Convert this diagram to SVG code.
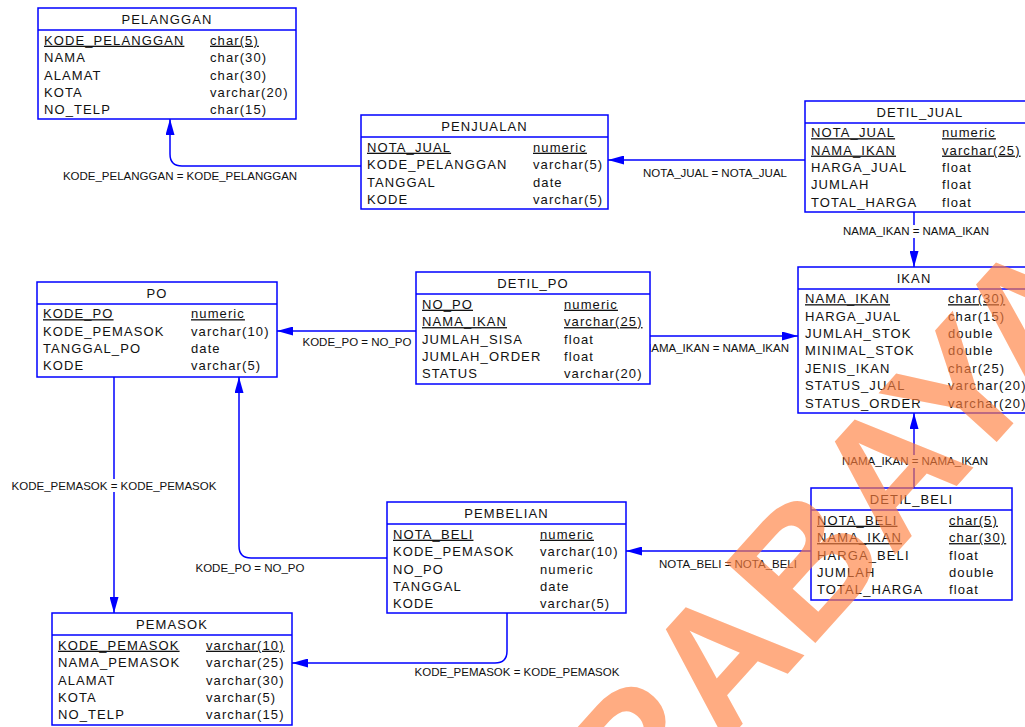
<svg xmlns="http://www.w3.org/2000/svg" width="1025" height="727" viewBox="0 0 1025 727">
  <defs>
    <style>
      .box { fill: #ffffff; stroke: #0000ff; stroke-width: 1.5; }
      .sep { stroke: #0000ff; stroke-width: 1.5; }
      .t { font-family: "Liberation Sans", Arial, sans-serif; font-size: 13px; letter-spacing: 1.1px; fill: #111111; }
      .title { text-anchor: middle; }
      .pk { text-decoration: underline; }
      .conn { fill: none; stroke: #0000ff; stroke-width: 1.5; }
      .lbl { font-family: "Liberation Sans", Arial, sans-serif; font-size: 11.5px; fill: #111111; text-anchor: middle; }
      .lblbg { fill: #ffffff; }
      .wm { font-family: "Liberation Sans", Arial, sans-serif; font-weight: bold; font-size: 175px; fill: #ff7f3f; fill-opacity: 0.65; }
    </style>
    <marker id="arrow" viewBox="0 0 16 9" refX="16" refY="4.5" markerWidth="16" markerHeight="9" markerUnits="userSpaceOnUse" orient="auto">
      <path d="M0,0 L16,4.5 L0,9 z" fill="#0000ff"/>
    </marker>
  </defs>

  <rect width="1025" height="727" fill="#ffffff"/>

  <!-- relationships -->
  <g id="connectors">
    <path class="conn" d="M361,166 H182 Q170,166 170,154 V119" marker-end="url(#arrow)"/>
    <path class="conn" d="M805,160 H608" marker-end="url(#arrow)"/>
    <path class="conn" d="M914,212 V267" marker-end="url(#arrow)"/>
    <path class="conn" d="M416,331 H277" marker-end="url(#arrow)"/>
    <path class="conn" d="M650,336 H798" marker-end="url(#arrow)"/>
    <path class="conn" d="M914,488 V413" marker-end="url(#arrow)"/>
    <path class="conn" d="M387,558 H251 Q239,558 239,546 V377" marker-end="url(#arrow)"/>
    <path class="conn" d="M114,377 V613" marker-end="url(#arrow)"/>
    <path class="conn" d="M507,613 V651 Q507,663 495,663 H292" marker-end="url(#arrow)"/>
    <path class="conn" d="M811,551 H626" marker-end="url(#arrow)"/>

    <text class="lbl" x="180" y="180">KODE_PELANGGAN = KODE_PELANGGAN</text>
    <text class="lbl" x="715" y="177">NOTA_JUAL = NOTA_JUAL</text>
    <rect class="lblbg" x="842" y="225" width="150" height="13"/>
    <text class="lbl" x="916" y="235">NAMA_IKAN = NAMA_IKAN</text>
    <text class="lbl" x="357" y="346">KODE_PO = NO_PO</text>
    <text class="lbl" x="716" y="352">NAMA_IKAN = NAMA_IKAN</text>
    <rect class="lblbg" x="841" y="455" width="150" height="13"/>
    <text class="lbl" x="915" y="465">NAMA_IKAN = NAMA_IKAN</text>
    <rect class="lblbg" x="11" y="479" width="206" height="13"/>
    <text class="lbl" x="114" y="490">KODE_PEMASOK = KODE_PEMASOK</text>
    <text class="lbl" x="250" y="572">KODE_PO = NO_PO</text>
    <text class="lbl" x="728" y="568">NOTA_BELI = NOTA_BELI</text>
    <text class="lbl" x="517" y="676">KODE_PEMASOK = KODE_PEMASOK</text>
  </g>

  <!-- tables -->
  <g id="PELANGGAN">
    <rect class="box" x="38" y="8" width="258" height="111"/>
    <line class="sep" x1="38" y1="30" x2="296" y2="30"/>
    <text class="t title" x="167" y="23.5">PELANGGAN</text>
    <text class="t pk" x="44" y="44.7">KODE_PELANGGAN</text><text class="t pk" x="210" y="44.7">char(5)</text>
    <text class="t" x="44" y="62.1">NAMA</text><text class="t" x="210" y="62.1">char(30)</text>
    <text class="t" x="44" y="79.5">ALAMAT</text><text class="t" x="210" y="79.5">char(30)</text>
    <text class="t" x="44" y="96.9">KOTA</text><text class="t" x="210" y="96.9">varchar(20)</text>
    <text class="t" x="44" y="114.3">NO_TELP</text><text class="t" x="210" y="114.3">char(15)</text>
  </g>

  <g id="PENJUALAN">
    <rect class="box" x="361" y="115" width="247" height="94"/>
    <line class="sep" x1="361" y1="137" x2="608" y2="137"/>
    <text class="t title" x="484.5" y="130.5">PENJUALAN</text>
    <text class="t pk" x="367" y="151.7">NOTA_JUAL</text><text class="t pk" x="533" y="151.7">numeric</text>
    <text class="t" x="367" y="169.1">KODE_PELANGGAN</text><text class="t" x="533" y="169.1">varchar(5)</text>
    <text class="t" x="367" y="186.5">TANGGAL</text><text class="t" x="533" y="186.5">date</text>
    <text class="t" x="367" y="203.9">KODE</text><text class="t" x="533" y="203.9">varchar(5)</text>
  </g>

  <g id="DETIL_JUAL">
    <rect class="box" x="805" y="101" width="232" height="111"/>
    <line class="sep" x1="805" y1="123" x2="1037" y2="123"/>
    <text class="t title" x="920" y="116.5">DETIL_JUAL</text>
    <text class="t pk" x="811" y="137.2">NOTA_JUAL</text><text class="t pk" x="942" y="137.2">numeric</text>
    <text class="t pk" x="811" y="154.6">NAMA_IKAN</text><text class="t pk" x="942" y="154.6">varchar(25)</text>
    <text class="t" x="811" y="172">HARGA_JUAL</text><text class="t" x="942" y="172">float</text>
    <text class="t" x="811" y="189.4">JUMLAH</text><text class="t" x="942" y="189.4">float</text>
    <text class="t" x="811" y="206.8">TOTAL_HARGA</text><text class="t" x="942" y="206.8">float</text>
  </g>

  <g id="IKAN">
    <rect class="box" x="798" y="267" width="234" height="146"/>
    <line class="sep" x1="798" y1="289" x2="1032" y2="289"/>
    <text class="t title" x="914" y="282.5">IKAN</text>
    <text class="t pk" x="805" y="303.2">NAMA_IKAN</text><text class="t pk" x="948" y="303.2">char(30)</text>
    <text class="t" x="805" y="320.6">HARGA_JUAL</text><text class="t" x="948" y="320.6">char(15)</text>
    <text class="t" x="805" y="338">JUMLAH_STOK</text><text class="t" x="948" y="338">double</text>
    <text class="t" x="805" y="355.4">MINIMAL_STOK</text><text class="t" x="948" y="355.4">double</text>
    <text class="t" x="805" y="372.8">JENIS_IKAN</text><text class="t" x="948" y="372.8">char(25)</text>
    <text class="t" x="805" y="390.2">STATUS_JUAL</text><text class="t" x="948" y="390.2">varchar(20)</text>
    <text class="t" x="805" y="407.6">STATUS_ORDER</text><text class="t" x="948" y="407.6">varchar(20)</text>
  </g>

  <g id="DETIL_PO">
    <rect class="box" x="416" y="272" width="234" height="112"/>
    <line class="sep" x1="416" y1="294" x2="650" y2="294"/>
    <text class="t title" x="533" y="287.5">DETIL_PO</text>
    <text class="t pk" x="422" y="308.7">NO_PO</text><text class="t pk" x="564" y="308.7">numeric</text>
    <text class="t pk" x="422" y="326.1">NAMA_IKAN</text><text class="t pk" x="564" y="326.1">varchar(25)</text>
    <text class="t" x="422" y="343.5">JUMLAH_SISA</text><text class="t" x="564" y="343.5">float</text>
    <text class="t" x="422" y="360.9">JUMLAH_ORDER</text><text class="t" x="564" y="360.9">float</text>
    <text class="t" x="422" y="378.3">STATUS</text><text class="t" x="564" y="378.3">varchar(20)</text>
  </g>

  <g id="PO">
    <rect class="box" x="37" y="282" width="240" height="95"/>
    <line class="sep" x1="37" y1="304" x2="277" y2="304"/>
    <text class="t title" x="157" y="297.5">PO</text>
    <text class="t pk" x="43" y="318.2">KODE_PO</text><text class="t pk" x="191" y="318.2">numeric</text>
    <text class="t" x="43" y="335.6">KODE_PEMASOK</text><text class="t" x="191" y="335.6">varchar(10)</text>
    <text class="t" x="43" y="353">TANGGAL_PO</text><text class="t" x="191" y="353">date</text>
    <text class="t" x="43" y="370.4">KODE</text><text class="t" x="191" y="370.4">varchar(5)</text>
  </g>

  <g id="PEMBELIAN">
    <rect class="box" x="387" y="502" width="239" height="111"/>
    <line class="sep" x1="387" y1="524" x2="626" y2="524"/>
    <text class="t title" x="506.5" y="517.5">PEMBELIAN</text>
    <text class="t pk" x="393" y="538.7">NOTA_BELI</text><text class="t pk" x="540" y="538.7">numeric</text>
    <text class="t" x="393" y="556.1">KODE_PEMASOK</text><text class="t" x="540" y="556.1">varchar(10)</text>
    <text class="t" x="393" y="573.5">NO_PO</text><text class="t" x="540" y="573.5">numeric</text>
    <text class="t" x="393" y="590.9">TANGGAL</text><text class="t" x="540" y="590.9">date</text>
    <text class="t" x="393" y="608.3">KODE</text><text class="t" x="540" y="608.3">varchar(5)</text>
  </g>

  <g id="DETIL_BELI">
    <rect class="box" x="811" y="488" width="201" height="112"/>
    <line class="sep" x1="811" y1="510" x2="1012" y2="510"/>
    <text class="t title" x="911.5" y="503.5">DETIL_BELI</text>
    <text class="t pk" x="817" y="524.7">NOTA_BELI</text><text class="t pk" x="949" y="524.7">char(5)</text>
    <text class="t pk" x="817" y="542.1">NAMA_IKAN</text><text class="t pk" x="949" y="542.1">char(30)</text>
    <text class="t" x="817" y="559.5">HARGA_BELI</text><text class="t" x="949" y="559.5">float</text>
    <text class="t" x="817" y="576.9">JUMLAH</text><text class="t" x="949" y="576.9">double</text>
    <text class="t" x="817" y="594.3">TOTAL_HARGA</text><text class="t" x="949" y="594.3">float</text>
  </g>

  <g id="PEMASOK">
    <rect class="box" x="52" y="613" width="240" height="112"/>
    <line class="sep" x1="52" y1="635" x2="292" y2="635"/>
    <text class="t title" x="172" y="628.5">PEMASOK</text>
    <text class="t pk" x="58" y="649.7">KODE_PEMASOK</text><text class="t pk" x="206" y="649.7">varchar(10)</text>
    <text class="t" x="58" y="667.1">NAMA_PEMASOK</text><text class="t" x="206" y="667.1">varchar(25)</text>
    <text class="t" x="58" y="684.5">ALAMAT</text><text class="t" x="206" y="684.5">varchar(30)</text>
    <text class="t" x="58" y="701.9">KOTA</text><text class="t" x="206" y="701.9">varchar(5)</text>
    <text class="t" x="58" y="719.3">NO_TELP</text><text class="t" x="206" y="719.3">varchar(15)</text>
  </g>

  <!-- diagonal watermark -->
  <text id="watermark" class="wm" x="0" y="0" transform="translate(475.7,1020.3) rotate(-48)">SURABAYA</text>
</svg>
